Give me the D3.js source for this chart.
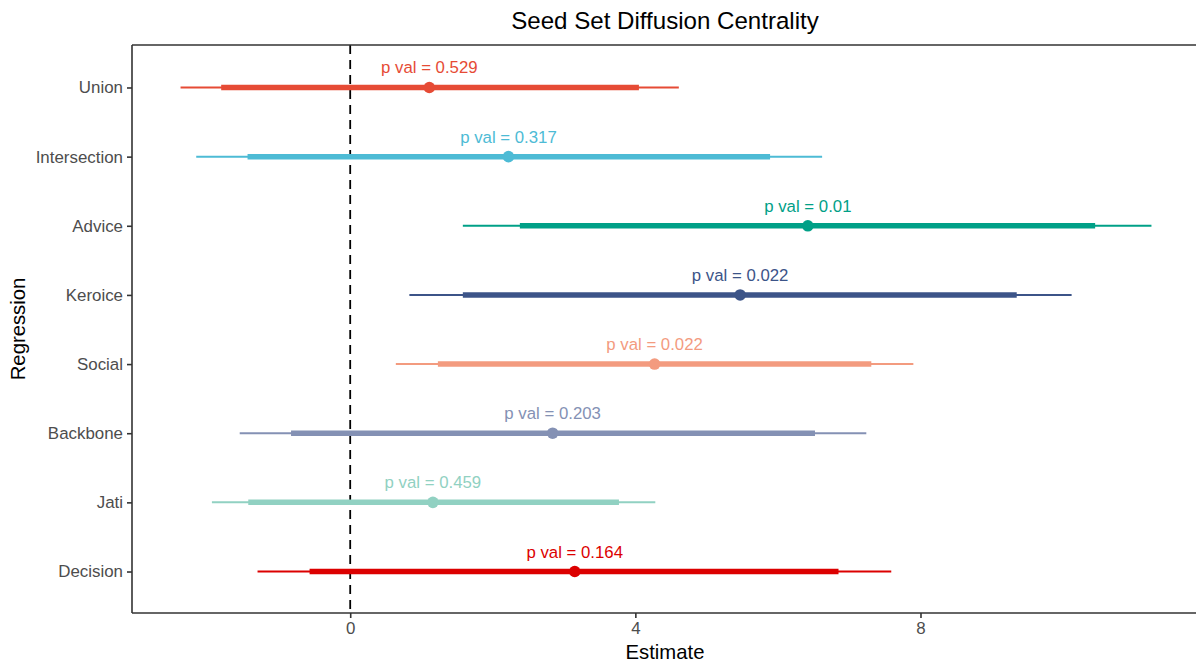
<!DOCTYPE html>
<html>
<head>
<meta charset="utf-8">
<script src="https://cdn.jsdelivr.net/npm/d3@7"></script>
<style>
  html, body { margin: 0; padding: 0; background: #fff; }
  svg { display: block; font-family: "Liberation Sans", Arial, sans-serif; }
</style>
</head>
<body>
<svg id="chart" width="1196" height="664"></svg>
<script>
// Regression models, top to bottom
const regressions = ["Union", "Intersection", "Advice", "Keroice", "Social", "Backbone", "Jati", "Decision"];
// Point estimates
const estimates = [1.11, 2.22, 6.42, 5.47, 4.27, 2.84, 1.16, 3.15];
// Inner interval (thick segment)
const innerLow  = [-1.81, -1.44, 2.38, 1.58, 1.23, -0.83, -1.43, -0.57];
const innerHigh = [4.05, 5.89, 10.45, 9.35, 7.31, 6.52, 3.77, 6.85];
// Outer interval (thin segment)
const outerLow  = [-2.38, -2.16, 1.58, 0.83, 0.64, -1.55, -1.94, -1.30];
const outerHigh = [4.61, 6.62, 11.24, 10.12, 7.90, 7.24, 4.28, 7.59];
// p values printed above each estimate
const pValues = ["0.529", "0.317", "0.01", "0.022", "0.022", "0.203", "0.459", "0.164"];
// Colour for each regression
const palette = ["#E64B35", "#4DBBD5", "#00A087", "#3C5488", "#F39B7F", "#8491B4", "#91D1C2", "#DC0000"];
// x axis ticks
const xTicks = [0, 4, 8];

const rows = regressions.map((r, i) => ({
  name: r, est: estimates[i], lo1: innerLow[i], hi1: innerHigh[i],
  lo2: outerLow[i], hi2: outerHigh[i], p: pValues[i], color: palette[i]
}));

const svg = d3.select("#chart");
const panel = { left: 132, right: 1200, top: 45, bottom: 613 };

const xMin = d3.min(outerLow), xMax = d3.max(outerHigh);
const pad = (xMax - xMin) * 0.05;
const x = d3.scaleLinear().domain([xMin - pad, xMax + pad]).range([panel.left, panel.right]);
const y = d3.scalePoint().domain(regressions).range([panel.top + 1, panel.bottom]).padding(0.6);

const g = svg.append("g");

// zero reference line
g.append("line")
  .attr("x1", x(0)).attr("x2", x(0))
  .attr("y1", panel.top).attr("y2", panel.bottom)
  .attr("stroke", "#000").attr("stroke-width", 1.8)
  .attr("stroke-dasharray", "9,6");

const rowG = g.selectAll("g.row").data(rows).join("g").attr("class", "row");

rowG.append("line")
  .attr("x1", d => x(d.lo2)).attr("x2", d => x(d.hi2))
  .attr("y1", d => y(d.name)).attr("y2", d => y(d.name))
  .attr("stroke", d => d.color).attr("stroke-width", 2);

rowG.append("line")
  .attr("x1", d => x(d.lo1)).attr("x2", d => x(d.hi1))
  .attr("y1", d => y(d.name)).attr("y2", d => y(d.name))
  .attr("stroke", d => d.color).attr("stroke-width", 5.5);

rowG.append("circle")
  .attr("cx", d => x(d.est)).attr("cy", d => y(d.name))
  .attr("r", 5.8).attr("fill", d => d.color);

rowG.append("text")
  .attr("x", d => x(d.est)).attr("y", d => y(d.name) - 14)
  .attr("text-anchor", "middle")
  .attr("font-size", "16.8px")
  .attr("fill", d => d.color)
  .text(d => "p val = " + d.p);

// axes
const xAxis = svg.append("g")
  .attr("transform", `translate(0,${panel.bottom})`)
  .call(d3.axisBottom(x).tickValues(xTicks).tickSize(5).tickPadding(4).tickFormat(d3.format("d")));
const yAxis = svg.append("g")
  .attr("transform", `translate(${panel.left},0)`)
  .call(d3.axisLeft(y).tickSize(5).tickPadding(4));

[xAxis, yAxis].forEach(a => {
  a.select(".domain").attr("stroke", "#333").attr("stroke-width", 1.6);
  a.selectAll(".tick line").attr("stroke", "#333").attr("stroke-width", 1.6);
  a.selectAll(".tick text").attr("fill", "#4D4D4D").attr("font-size", "16.9px")
    .attr("font-family", "Liberation Sans, Arial, sans-serif");
});
xAxis.select(".domain").attr("d", `M${panel.left},0H1196`);
yAxis.select(".domain").attr("d", `M0,${panel.top}V${panel.bottom}`);

// top border of the panel
svg.append("line")
  .attr("x1", panel.left).attr("x2", 1196)
  .attr("y1", panel.top).attr("y2", panel.top)
  .attr("stroke", "#333").attr("stroke-width", 1.6);

// titles
svg.append("text")
  .attr("x", 665).attr("y", 29)
  .attr("text-anchor", "middle").attr("font-size", "24.1px").attr("fill", "#000")
  .text("Seed Set Diffusion Centrality");
svg.append("text")
  .attr("x", 665).attr("y", 659)
  .attr("text-anchor", "middle").attr("font-size", "20.3px").attr("fill", "#000")
  .text("Estimate");
svg.append("text")
  .attr("transform", `translate(25,${(panel.top + panel.bottom) / 2}) rotate(-90)`)
  .attr("text-anchor", "middle").attr("font-size", "20.3px").attr("fill", "#000")
  .text("Regression");
</script>
</body>
</html>
